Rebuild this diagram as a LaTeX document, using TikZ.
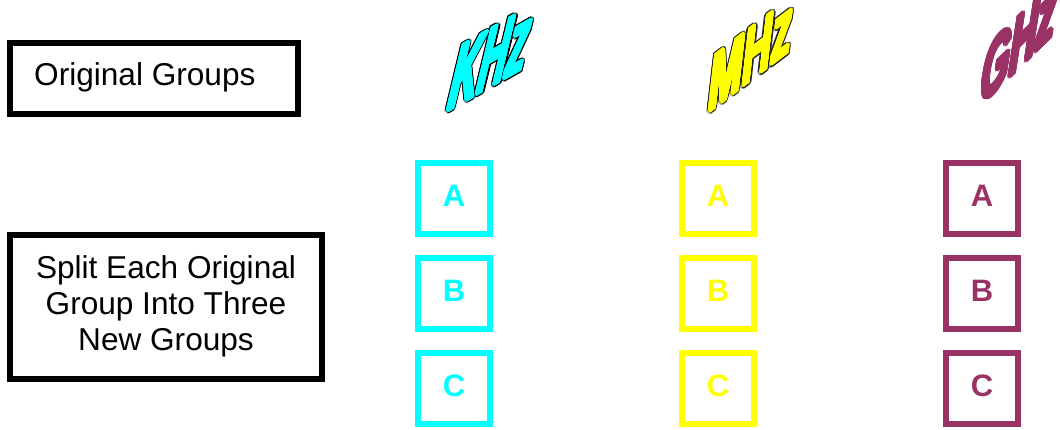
\documentclass[tikz,border=0pt]{standalone}
\usepackage{fontspec}
\setmainfont{Liberation Sans}
\definecolor{plum}{HTML}{993366}
\definecolor{cyanc}{HTML}{00FFFF}
\definecolor{yellowc}{HTML}{FFFF00}
\begin{document}
\begin{tikzpicture}[x=1pt,y=-1pt,
  blackbox/.style={draw=black,line width=6pt,fill=none},
  colbox/.style={draw=#1,line width=5.5pt,fill=none},
  lbl/.style={inner sep=0pt,font=\fontsize{31.6pt}{36pt}\selectfont,text=black},
  letter/.style={inner sep=0pt,anchor=base,font=\fontsize{31pt}{36pt}\selectfont\bfseries,text=#1},
  wa/.style={inner sep=0pt,anchor=base west,transform shape}]
\useasboundingbox (0,0) rectangle (1060,429);
% left boxes
\draw[blackbox] (10,43) rectangle (298,114);
\node[lbl,anchor=base west] (orig) at (34,85) {Original Groups};
\draw[blackbox] (10,235) rectangle (322,379);
\node[lbl,anchor=base] (s1) at (166,278) {Split Each Original};
\node[lbl,anchor=base] (s2) at (166,314) {Group Into Three};
\node[lbl,anchor=base] (s3) at (166,350) {New Groups};
% colored boxes
\foreach \cx/\col in {454/cyanc,718/yellowc,982/plum}{
  \foreach \ty/\t in {160/A,255/B,350/C}{
    \draw[colbox=\col] (\cx-36,\ty+3) rectangle (\cx+36,\ty+74);
    \node[letter=\col] (\col\t) at (\cx,\ty+46) {\t};
  }
}
% WordArt KHz
\begin{scope}[shift={(445,113)},font=\fontsize{90pt}{90pt}\selectfont\bfseries]
  \foreach \a in {0,22.5,...,359}{
    \node[wa,shift={(\a:2.6)},cm={0.44,0.25,0.26,1.08,(0,0)},text=black] at (0,0) {KHz};
  }
  \foreach \a in {0,22.5,...,359}{
    \node[wa,shift={(\a:1.3)},cm={0.44,0.25,0.26,1.08,(0,0)},text=cyanc] at (0,0) {KHz};
  }
  \node[wa,cm={0.44,0.25,0.26,1.08,(0,0)},text=cyanc] (khz) at (0,0) {KHz};
\end{scope}
% WordArt MHz
\begin{scope}[shift={(707,114)},font=\fontsize{80pt}{80pt}\selectfont\bfseries]
  \foreach \a in {0,22.5,...,359}{
    \node[wa,shift={(\a:2.6)},cm={0.50,0.38,0.12,1.04,(0,0)},text=black!85] at (0,0) {MHz};
  }
  \foreach \a in {0,22.5,...,359}{
    \node[wa,shift={(\a:1.3)},cm={0.50,0.38,0.12,1.04,(0,0)},text=yellowc] at (0,0) {MHz};
  }
  \node[wa,cm={0.50,0.38,0.12,1.04,(0,0)},text=yellowc] (mhz) at (0,0) {MHz};
\end{scope}
% WordArt GHz
\begin{scope}[shift={(978,108)},font=\fontsize{84pt}{84pt}\selectfont\bfseries]
  \foreach \a in {0,22.5,...,359}{
    \node[wa,shift={(\a:1.8)},cm={0.44,0.43,0.16,1.04,(0,0)},text=plum] at (0,0) {GHz};
  }
  \node[wa,cm={0.44,0.43,0.16,1.04,(0,0)},text=plum] (ghz) at (0,0) {GHz};
\end{scope}
\end{tikzpicture}
\end{document}
